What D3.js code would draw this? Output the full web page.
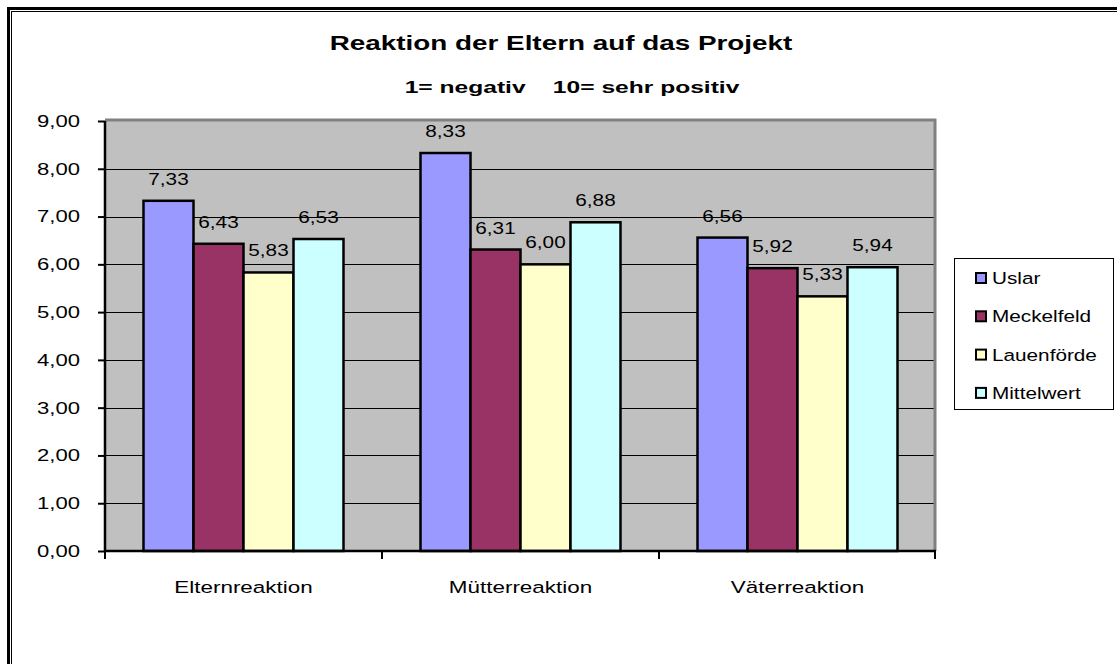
<!DOCTYPE html>
<html>
<head>
<meta charset="utf-8">
<script src="https://cdn.jsdelivr.net/npm/d3@7"></script>
<style>
  body { margin: 0; background: #fff; }
  svg { display: block; font-family: "Liberation Sans", Arial, sans-serif; }
</style>
</head>
<body>
<svg id="chart" width="1117" height="664"></svg>
<script>
// chart data
var categories = ['Elternreaktion', 'Mütterreaktion', 'Väterreaktion'];
var seriesNames = ['Uslar', 'Meckelfeld', 'Lauenförde', 'Mittelwert'];
var uslar = [7.33, 8.33, 6.56];
var meckelfeld = [6.43, 6.31, 5.92];
var lauenfoerde = [5.83, 6.00, 5.33];
var mittelwert = [6.53, 6.88, 5.94];
var yTicks = [0, 1, 2, 3, 4, 5, 6, 7, 8, 9];

var seriesColors = ['#9999ff', '#993366', '#ffffcc', '#ccffff'];
var seriesValues = [uslar, meckelfeld, lauenfoerde, mittelwert];

var svg = d3.select('#chart');
var plot = { left: 105, top: 121, right: 936, bottom: 551 };
var SX = 1.27; // the original text is rendered a bit wide

var fmt = function(v) { return v.toFixed(2).replace('.', ','); };

// move x/y into a transform so the glyphs can be widened around their anchor
function stretch(sel, sx) {
  sel.each(function() {
    var t = d3.select(this);
    var x = +t.attr('x') || 0, y = +t.attr('y') || 0;
    t.attr('x', 0).attr('y', 0)
      .attr('transform', 'translate(' + x + ',' + y + ') scale(' + sx + ',1)');
  });
}

function fitWidth(sel, width) {
  var w = sel.node().getComputedTextLength();
  stretch(sel, width / w);
}

// outer frame (double line, runs off the right / bottom edge)
svg.append('rect')
  .attr('x', 8.5).attr('y', 8.5)
  .attr('width', 1200).attr('height', 800)
  .attr('fill', 'none').attr('stroke', '#000').attr('stroke-width', 3);
svg.append('rect')
  .attr('x', 11.5).attr('y', 11.5)
  .attr('width', 1200).attr('height', 800)
  .attr('fill', 'none').attr('stroke', '#000').attr('stroke-width', 1);

// titles
svg.append('text')
  .attr('x', 561).attr('y', 50)
  .attr('text-anchor', 'middle')
  .attr('font-size', 21).attr('font-weight', 'bold')
  .text('Reaktion der Eltern auf das Projekt')
  .call(fitWidth, 463);
svg.append('text')
  .attr('x', 572).attr('y', 93)
  .attr('text-anchor', 'middle')
  .attr('font-size', 17).attr('font-weight', 'bold')
  .style('white-space', 'pre')
  .text('1= negativ    10= sehr positiv')
  .call(fitWidth, 335);

var x0 = d3.scaleBand()
  .domain(categories)
  .range([plot.left, plot.right]);

var x1 = d3.scaleBand()
  .domain(seriesNames)
  .range([0, x0.bandwidth()])
  .paddingOuter(0.77);

var y = d3.scaleLinear()
  .domain([0, 9])
  .range([plot.bottom, plot.top]);

// plot background
svg.append('rect')
  .attr('x', plot.left).attr('y', plot.top)
  .attr('width', plot.right - plot.left)
  .attr('height', plot.bottom - plot.top)
  .attr('fill', '#c0c0c0');

// gridlines
svg.append('g')
  .selectAll('line')
  .data(yTicks.filter(function(d) { return d > 0 && d < 9; }))
  .join('line')
  .attr('x1', plot.left).attr('x2', plot.right)
  .attr('y1', function(d) { return Math.round(y(d)) + 0.5; })
  .attr('y2', function(d) { return Math.round(y(d)) + 0.5; })
  .attr('stroke', '#000').attr('stroke-width', 1);

// gray top / right border of plot area
svg.append('path')
  .attr('d', 'M' + plot.left + ',' + (plot.top - 1) + 'H' + (plot.right - 1) + 'V' + plot.bottom)
  .attr('fill', 'none').attr('stroke', '#808080').attr('stroke-width', 3);

// bars
var groups = svg.append('g')
  .selectAll('g')
  .data(categories)
  .join('g')
  .attr('transform', function(d) { return 'translate(' + x0(d) + ',0)'; });

groups.selectAll('rect')
  .data(function(c, i) {
    return seriesNames.map(function(s, j) { return { s: s, v: seriesValues[j][i], j: j }; });
  })
  .join('rect')
  .attr('x', function(d) { return x1(d.s); })
  .attr('y', function(d) { return y(d.v); })
  .attr('width', x1.bandwidth())
  .attr('height', function(d) { return y(0) - y(d.v); })
  .attr('fill', function(d) { return seriesColors[d.j]; })
  .attr('stroke', '#000').attr('stroke-width', 2.5);

groups.selectAll('text')
  .data(function(c, i) {
    return seriesNames.map(function(s, j) { return { s: s, v: seriesValues[j][i] }; });
  })
  .join('text')
  .attr('x', function(d) { return x1(d.s) + x1.bandwidth() / 2; })
  .attr('y', function(d) { return y(d.v) - 16; })
  .attr('text-anchor', 'middle')
  .attr('font-size', 17)
  .text(function(d) { return fmt(d.v); })
  .call(stretch, 1.22);

// y axis
var yAxis = d3.axisLeft(y)
  .tickValues(yTicks)
  .tickFormat(fmt)
  .tickSize(7)
  .tickPadding(18);

var gy = svg.append('g')
  .attr('transform', 'translate(' + plot.left + ',0)')
  .call(yAxis);
gy.select('.domain').attr('stroke', '#000').attr('stroke-width', 2.5)
  .attr('d', 'M0,' + plot.top + 'V' + plot.bottom);
gy.selectAll('.tick line').attr('stroke', '#000').attr('stroke-width', 2);
gy.selectAll('.tick text')
  .attr('font-family', '"Liberation Sans", Arial, sans-serif')
  .attr('font-size', 17).attr('fill', '#000')
  .call(stretch, 1.3);

// x axis
var gx = svg.append('g')
  .attr('transform', 'translate(0,' + plot.bottom + ')');
gx.append('line')
  .attr('x1', plot.left).attr('x2', plot.right)
  .attr('stroke', '#000').attr('stroke-width', 2.5);
gx.selectAll('line.tick')
  .data(categories.concat(['end']))
  .join('line')
  .attr('class', 'tick')
  .attr('x1', function(d) { return d === 'end' ? plot.right - 1 : x0(d); })
  .attr('x2', function(d) { return d === 'end' ? plot.right - 1 : x0(d); })
  .attr('y1', 0).attr('y2', 8)
  .attr('stroke', '#000').attr('stroke-width', 2);
gx.selectAll('text')
  .data(categories)
  .join('text')
  .attr('x', function(d) { return x0(d) + x0.bandwidth() / 2; })
  .attr('y', 42)
  .attr('text-anchor', 'middle')
  .attr('font-size', 17)
  .text(function(d) { return d; })
  .call(stretch, SX + 0.05);

// legend
var legend = svg.append('g').attr('transform', 'translate(954,258)');
legend.append('rect')
  .attr('x', 0.5).attr('y', 0.5)
  .attr('width', 159).attr('height', 151)
  .attr('fill', '#fff').attr('stroke', '#000').attr('stroke-width', 1);

var items = legend.selectAll('g.item')
  .data(seriesNames)
  .join('g')
  .attr('class', 'item')
  .attr('transform', function(d, i) { return 'translate(21,' + (20 + i * 38.3) + ')'; });
items.append('rect')
  .attr('x', 1).attr('y', -5)
  .attr('width', 10).attr('height', 10)
  .attr('fill', function(d, i) { return seriesColors[i]; })
  .attr('stroke', '#000').attr('stroke-width', 2);
items.append('text')
  .attr('x', 17).attr('y', 6)
  .attr('font-size', 17)
  .text(function(d) { return d; })
  .call(stretch, 1.22);
</script>
</body>
</html>
